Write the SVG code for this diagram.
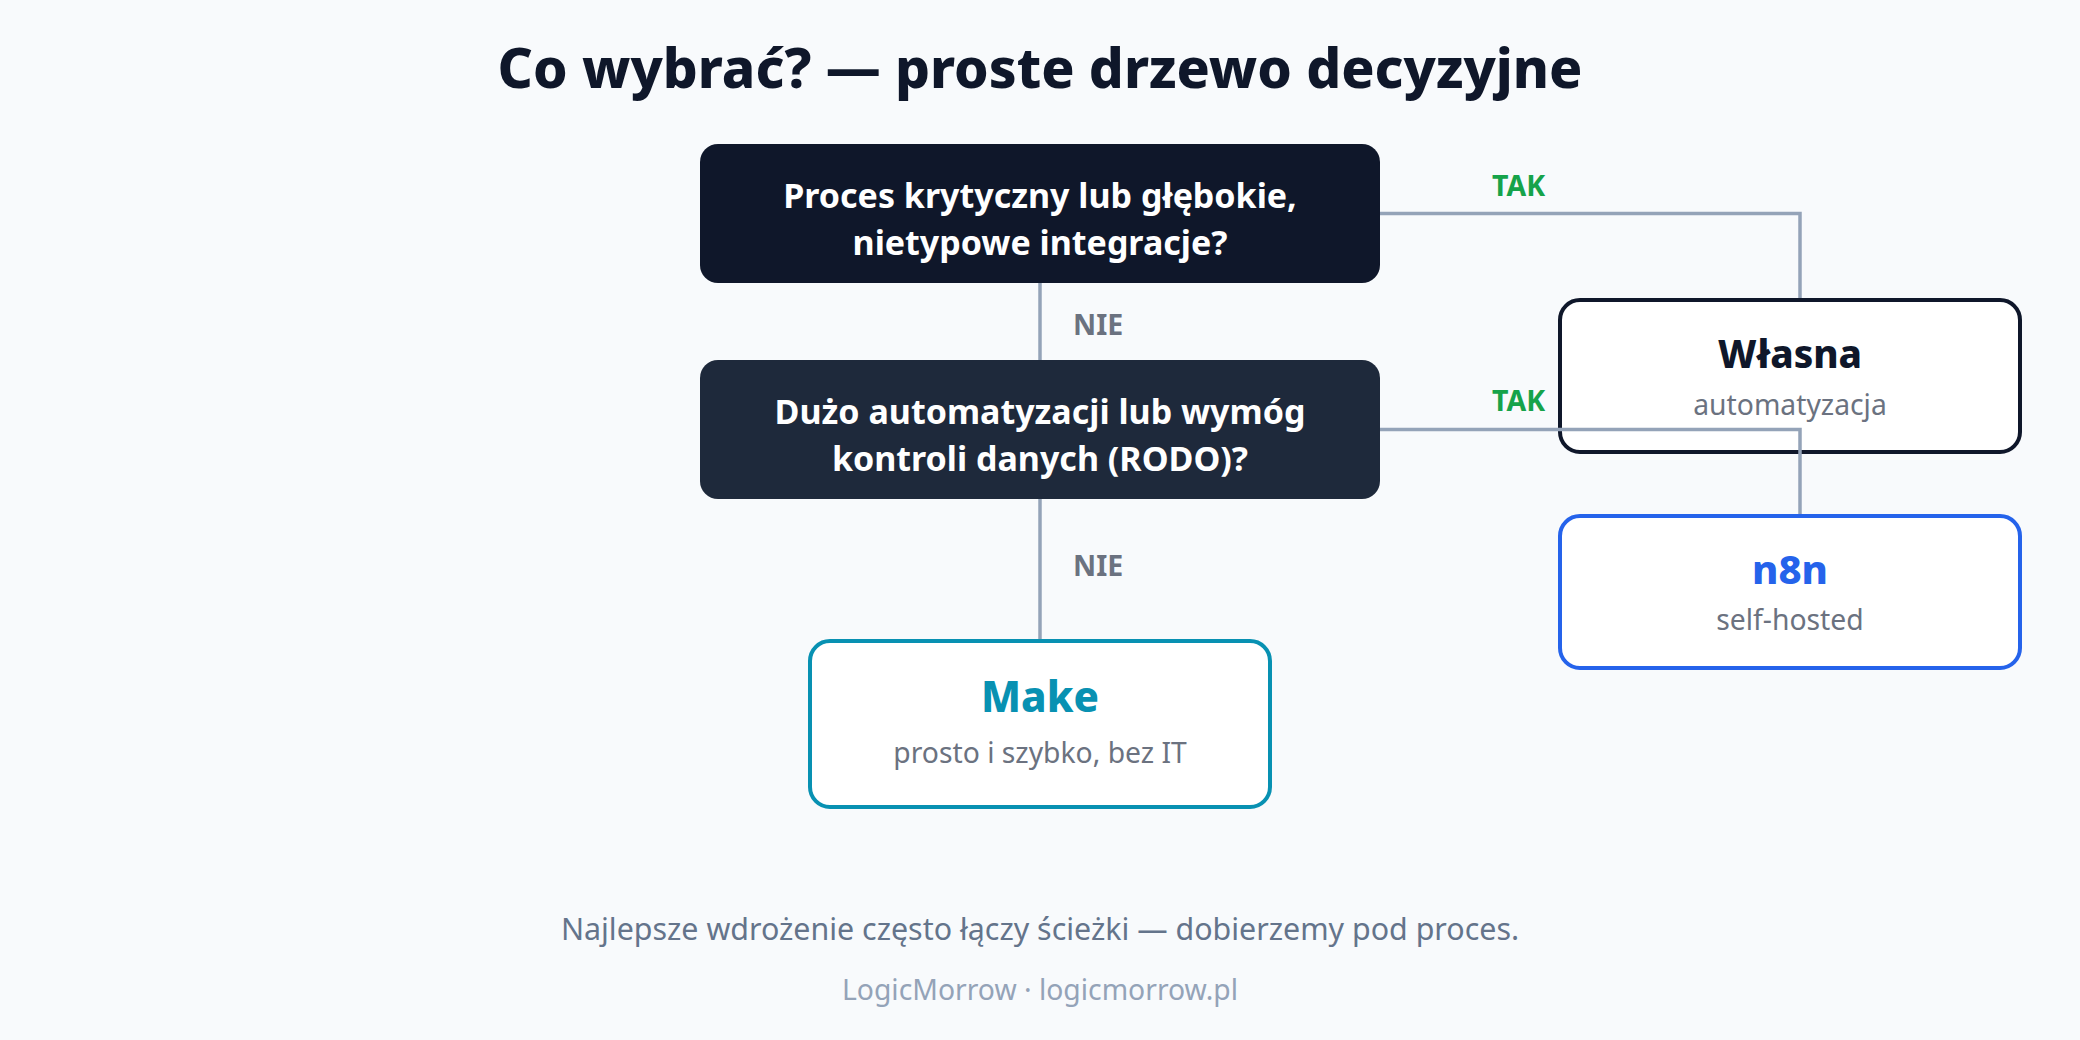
<svg xmlns="http://www.w3.org/2000/svg" width="2080" height="1040" viewBox="0 0 2080 1040">
<style>
text{font-family:"Noto Sans","Open Sans","DejaVu Sans",sans-serif;text-anchor:middle}
.title{font-size:55px;font-weight:800;fill:#0f172a}
.q{font-size:34px;font-weight:700;fill:#ffffff}
.lbl{font-size:28.5px;font-weight:700}
.nie{fill:#6b7280}
.tak{fill:#16a34a;text-anchor:start}
.nh{font-size:38.5px;font-weight:800}
.sub{font-size:28.3px;font-weight:400;fill:#6b7280}
.conn{fill:none;stroke:#94a3b8;stroke-width:3.5}
.foot1{font-size:30.4px;fill:#64748b}
.foot2{font-size:28.3px;fill:#94a3b8}
</style>
<rect width="2080" height="1040" fill="#f8fafc"/>
<text class="title" x="1040" y="88">Co wybrać? — proste drzewo decyzyjne</text>
<g id="q1">
<rect x="700" y="144" width="680" height="139" rx="18" fill="#0f172a"/>
<text class="q" x="1040" y="208">Proces krytyczny lub głębokie,</text>
<text class="q" x="1040" y="255">nietypowe integracje?</text>
</g>
<g id="q2">
<rect x="700" y="360" width="680" height="139" rx="18" fill="#1e293b"/>
<text class="q" x="1040" y="424">Dużo automatyzacji lub wymóg</text>
<text class="q" x="1040" y="471">kontroli danych (RODO)?</text>
</g>
<g id="wlasna">
<rect x="1560" y="300" width="460" height="152" rx="20" fill="#ffffff" stroke="#0f172a" stroke-width="4"/>
<text class="nh" x="1790" y="368" fill="#0f172a">Własna</text>
<text class="sub" x="1790" y="415">automatyzacja</text>
</g>
<g id="n8n">
<rect x="1560" y="516" width="460" height="152" rx="20" fill="#ffffff" stroke="#2563eb" stroke-width="4"/>
<text class="nh" x="1790" y="584" fill="#2563eb" style="font-size:40px">n8n</text>
<text class="sub" x="1790" y="630">self-hosted</text>
</g>
<g id="make">
<rect x="810" y="641" width="460" height="166" rx="20" fill="#ffffff" stroke="#0891b2" stroke-width="4"/>
<text class="nh" x="1040" y="712" fill="#0891b2" style="font-size:42px">Make</text>
<text class="sub" x="1040" y="763">prosto i szybko, bez IT</text>
</g>
<g id="connectors">
<path class="conn" d="M1380 213.5 H1800 V298"/>
<path class="conn" d="M1040 283 V360"/>
<path class="conn" d="M1380 429.5 H1800 V514"/>
<path class="conn" d="M1040 499 V639"/>
<text class="lbl tak" x="1492" y="196">TAK</text>
<text class="lbl tak" x="1492" y="411">TAK</text>
<text class="lbl nie" x="1073" y="335" style="text-anchor:start">NIE</text>
<text class="lbl nie" x="1073" y="576" style="text-anchor:start">NIE</text>
</g>
<text class="foot1" x="1040" y="940">Najlepsze wdrożenie często łączy ścieżki — dobierzemy pod proces.</text>
<text class="foot2" x="1040" y="1000">LogicMorrow · logicmorrow.pl</text>
</svg>
